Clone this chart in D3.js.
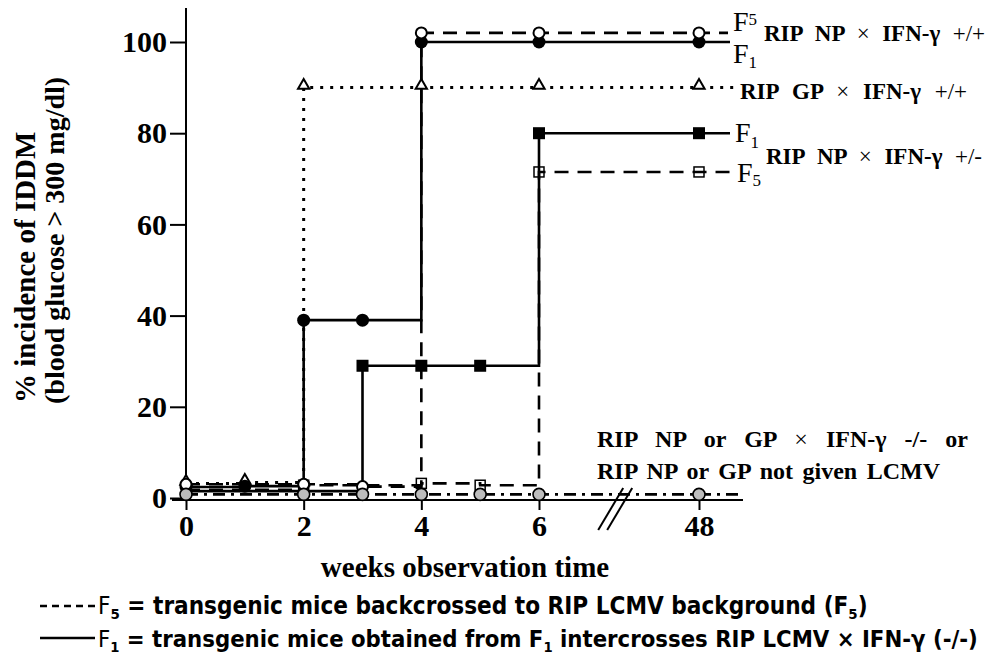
<!DOCTYPE html>
<html>
<head>
<meta charset="utf-8">
<script src="https://cdn.jsdelivr.net/npm/d3@7"></script>
<style>
body { margin: 0; background: #fff; }
svg text { font-family: "Liberation Serif", "Times New Roman", serif; font-weight: bold; fill: #000; }
</style>
</head>
<body>
<div id="chart"></div>
<script>
"use strict";
var weekTicks = [0, 2, 4, 6, 48];
var pctTicks = [0, 20, 40, 60, 80, 100];

// weeks observed and % incidence of IDDM for each group
var npPosF5Weeks = [0, 2, 3, 4, 6, 48];
var npPosF5Values = [3, 3, 2.5, 102, 102, 102];
var npPosF1Weeks = [0, 1, 2, 3, 4, 6, 48];
var npPosF1Values = [2.4, 2.6, 39, 39, 100, 100, 100];
var gpPosWeeks = [0, 1, 2, 4, 6, 48];
var gpPosValues = [3.2, 3.4, 90, 90, 90, 90];
var npHetF1Weeks = [0, 3, 4, 5, 6, 48];
var npHetF1Values = [1.5, 29, 29, 29, 80, 80];
var npHetF5Weeks = [0, 2, 4, 5, 6, 48];
var npHetF5Values = [1.8, 2.8, 3.2, 2.8, 71.5, 71.5];
var negWeeks = [0, 2, 3, 4, 5, 6, 48];
var negValues = [0.8, 0.8, 0.8, 0.8, 0.8, 0.8, 0.8];

function chart()
{
    var w = 989;
    var h = 656;
    var svg = d3.select("#chart")
                .append("svg")
                .attr("width", w)
                .attr("height", h);

    // weeks 0-6 to scale, then a break before week 48
    var x = d3.scaleLinear().domain([0, 6, 48]).range([186, 539, 699]);
    var y = d3.scaleLinear().domain([0, 100]).range([498, 42]);
    var axisY = 500;

    // y axis
    var gy = svg.append("g")
                .attr("transform", "translate(" + x(0) + ",0)")
                .call(d3.axisLeft(y).tickValues(pctTicks).tickSize(16).tickPadding(3).tickSizeOuter(0));
    gy.select(".domain").remove();
    gy.append("line").attr("y1", 8).attr("y2", axisY).attr("stroke", "#000").attr("stroke-width", 2);
    gy.selectAll(".tick line").attr("stroke", "#000").attr("stroke-width", 2);
    gy.selectAll(".tick text").style("font-size", "30px").attr("fill", "#000");

    // x axis
    var gx = svg.append("g")
                .attr("transform", "translate(0," + axisY + ")")
                .call(d3.axisBottom(x).tickValues(weekTicks).tickSize(10).tickPadding(5).tickSizeOuter(0));
    gx.select(".domain").remove();
    gx.append("line").attr("x1", 172).attr("x2", 743).attr("stroke", "#000").attr("stroke-width", 2);
    gx.selectAll(".tick line").attr("stroke", "#000").attr("stroke-width", 2);
    gx.selectAll(".tick text").style("font-size", "30px").attr("fill", "#000");

    // axis break
    var bx = x(6) + (x(48) - x(6)) * 0.37;
    [0, 9].forEach(function(off) {
        svg.append("line")
            .attr("x1", bx + off).attr("y1", 530)
            .attr("x2", bx + off + 25).attr("y2", 488)
            .attr("stroke", "#000").attr("stroke-width", 2);
    });

    // axis titles
    svg.append("text")
        .attr("x", 465).attr("y", 577)
        .attr("text-anchor", "middle")
        .style("font-size", "29px")
        .text("weeks observation time");

    svg.append("text")
        .attr("transform", "translate(35,403) rotate(-90)")
        .style("font-size", "29px")
        .text("% incidence of IDDM");
    svg.append("text")
        .attr("transform", "translate(64,404) rotate(-90)")
        .style("font-size", "28px")
        .text("(blood glucose > 300 mg/dl)");

    var series = [
        {weeks: negWeeks, values: negValues, dash: "12,6,3,6", mark: "gray", tail: 44, bare: 0},
        {weeks: npHetF5Weeks, values: npHetF5Values, dash: "14,9", mark: "openSquare", tail: 34, bare: 1},
        {weeks: npHetF1Weeks, values: npHetF1Values, dash: null, mark: "square", tail: 31, bare: 1},
        {weeks: gpPosWeeks, values: gpPosValues, dash: "3,7", mark: "triangle", tail: 36, bare: 0},
        {weeks: npPosF1Weeks, values: npPosF1Values, dash: null, mark: "circle", tail: 31, bare: 0},
        {weeks: npPosF5Weeks, values: npPosF5Values, dash: "14,9", mark: "openCircle", tail: 29, bare: 0}
    ];

    var line = d3.line().curve(d3.curveStepAfter);

    series.forEach(function(s) {
        var pts = s.weeks.map(function(wk, i) { return [x(wk), y(s.values[i])]; });
        var last = pts[pts.length - 1];
        pts.push([last[0] + s.tail, last[1]]);
        svg.append("path")
            .attr("d", line(pts))
            .attr("fill", "none")
            .attr("stroke", "#000")
            .attr("stroke-width", s.mark == "triangle" ? 3 : 2.6)
            .attr("stroke-dasharray", s.dash);
    });

    // markers, gray ones on top
    series.slice(1).concat([series[0]]).forEach(function(s) {
        var pts = s.weeks.map(function(wk, i) { return {x: x(wk), y: y(s.values[i])}; }).slice(s.bare);
        var g = svg.append("g");
        pts.forEach(function(p) {
            if (s.mark == "circle") {
                g.append("circle").attr("cx", p.x).attr("cy", p.y).attr("r", 6.5).attr("fill", "#000");
            } else if (s.mark == "openCircle") {
                g.append("circle").attr("cx", p.x).attr("cy", p.y).attr("r", 5.5)
                    .attr("fill", "#fff").attr("stroke", "#000").attr("stroke-width", 2);
            } else if (s.mark == "gray") {
                g.append("circle").attr("cx", p.x).attr("cy", p.y).attr("r", 6)
                    .attr("fill", "#bdbdbd").attr("stroke", "#000").attr("stroke-width", 1.6);
            } else if (s.mark == "square") {
                g.append("rect").attr("x", p.x - 6).attr("y", p.y - 6)
                    .attr("width", 12).attr("height", 12).attr("fill", "#000");
            } else if (s.mark == "openSquare") {
                g.append("rect").attr("x", p.x - 5).attr("y", p.y - 5)
                    .attr("width", 10).attr("height", 10)
                    .attr("fill", "none").attr("stroke", "#000").attr("stroke-width", 1.5);
            } else if (s.mark == "triangle") {
                g.append("path")
                    .attr("d", d3.symbol().type(d3.symbolTriangle).size(55)())
                    .attr("transform", "translate(" + p.x + "," + (p.y - 2) + ")")
                    .attr("fill", "#fff").attr("stroke", "#000").attr("stroke-width", 2);
            }
        });
    });

    // F5 / F1 tags at the line ends
    function fTag(xp, yb, sub, subDy) {
        var t = svg.append("text").attr("x", xp).attr("y", yb)
                    .style("font-weight", "normal").style("font-size", "28px");
        t.append("tspan").text("F");
        t.append("tspan").attr("dy", subDy).style("font-size", "17px").text(sub);
    }
    fTag(733, 31, "5", -6);
    fTag(733, 63, "1", 5);
    fTag(735, 142, "1", 6);
    fTag(737, 182, "5", 4);

    // bold group labels, word gaps widened to the reference width
    function label(xp, yb, parts, size, len) {
        var t = svg.append("text").attr("x", xp).attr("y", yb).style("font-size", size + "px");
        parts.forEach(function(p) {
            t.append("tspan").text(p[0]).style("font-weight", p[1] ? "bold" : "normal");
        });
        var natural = t.node().getComputedTextLength();
        var gaps = parts.map(function(p) { return p[0]; }).join("").split(" ").length - 1;
        if (gaps > 0 && len > natural) t.style("word-spacing", ((len - natural) / gaps) + "px");
    }
    label(764, 41, [["RIP NP ", 1], ["× ", 0], ["IFN-γ ", 1], ["+/+", 0]], 23, 221);
    label(740, 99, [["RIP GP ", 1], ["× ", 0], ["IFN-γ ", 1], ["+/+", 0]], 23, 227);
    label(766, 164, [["RIP NP ", 1], ["× ", 0], ["IFN-γ ", 1], ["+/-", 0]], 23, 216);
    label(597, 447, [["RIP NP or GP ", 1], ["× ", 0], ["IFN-γ -/- or", 1]], 24, 371);
    label(597, 479, [["RIP NP or GP not given LCMV", 1]], 24, 343);

    // legend
    var legendFont = "\"Liberation Sans Narrow\", \"DejaVu Sans Condensed\", sans-serif";
    svg.append("line").attr("x1", 40).attr("x2", 95).attr("y1", 606).attr("y2", 606)
        .attr("stroke", "#000").attr("stroke-width", 2.5).attr("stroke-dasharray", "7,5");
    svg.append("line").attr("x1", 40).attr("x2", 95).attr("y1", 638).attr("y2", 638)
        .attr("stroke", "#000").attr("stroke-width", 2.5);

    // font size chosen so the line spans the reference width
    function legendLine(yb, parts, len) {
        var t = svg.append("text").attr("x", 98).attr("y", yb)
                    .style("font-family", legendFont).style("font-size", "24px");
        parts.forEach(function(p) {
            var ts = t.append("tspan").text(p[0]);
            if (p[1] == "F") ts.style("font-weight", "normal");
            if (p[1] == "sub") ts.attr("dy", 5).style("font-size", "0.62em");
            if (p[1] == "up") ts.attr("dy", -5);
        });
        var natural = t.node().getComputedTextLength();
        t.style("font-size", (24 * len / natural).toFixed(2) + "px");
    }
    legendLine(614, [["F", "F"], ["5", "sub"], [" = transgenic mice backcrossed to RIP LCMV background (F", "up"], ["5", "sub"], [")", "up"]], 770);
    legendLine(647, [["F", "F"], ["1", "sub"], [" = transgenic mice obtained from F", "up"], ["1", "sub"], [" intercrosses RIP LCMV × IFN-γ (-/-)", "up"]], 880);
}

window.addEventListener("load", function() {
    chart();
});
</script>
</body>
</html>
